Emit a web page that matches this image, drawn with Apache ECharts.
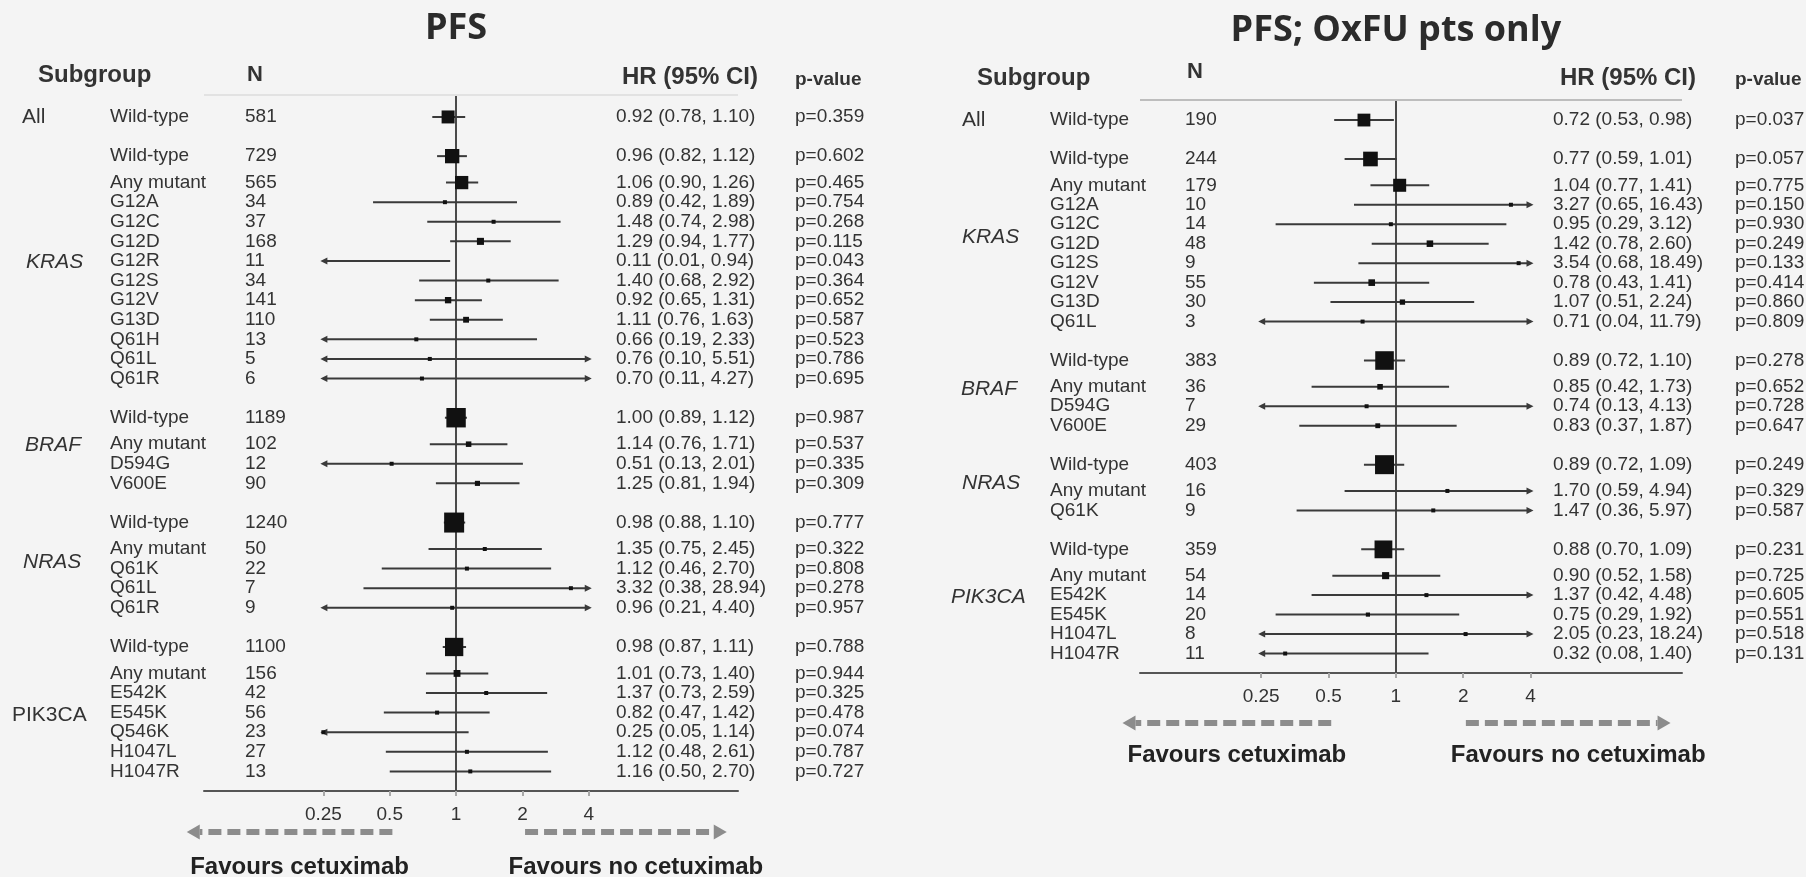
<!DOCTYPE html>
<html>
<head>
<meta charset="utf-8">
<script src="https://cdn.jsdelivr.net/npm/echarts@6/dist/echarts.min.js"></script>
<style>
  html, body { margin: 0; padding: 0; background: #f4f4f4; }
  #chart { width: 1806px; height: 877px; }
</style>
</head>
<body>
<div id="chart"></div>
<script>
// Hazard-ratio axis tick labels (log scale, base 2)
const hrTicks = [0.25, 0.5, 1, 2, 4];

// ---------- PFS, all patients ----------
const pfsGroups = ['All', 'KRAS', 'BRAF', 'NRAS', 'PIK3CA'];
const pfsGroupSizes = [1, 12, 4, 5, 7];
const pfsSubgroups = ['Wild-type',
  'Wild-type', 'Any mutant', 'G12A', 'G12C', 'G12D', 'G12R', 'G12S', 'G12V', 'G13D', 'Q61H', 'Q61L', 'Q61R',
  'Wild-type', 'Any mutant', 'D594G', 'V600E',
  'Wild-type', 'Any mutant', 'Q61K', 'Q61L', 'Q61R',
  'Wild-type', 'Any mutant', 'E542K', 'E545K', 'Q546K', 'H1047L', 'H1047R'];
const pfsN = [581,
  729, 565, 34, 37, 168, 11, 34, 141, 110, 13, 5, 6,
  1189, 102, 12, 90,
  1240, 50, 22, 7, 9,
  1100, 156, 42, 56, 23, 27, 13];
const pfsHR = [0.92,
  0.96, 1.06, 0.89, 1.48, 1.29, 0.11, 1.40, 0.92, 1.11, 0.66, 0.76, 0.70,
  1.00, 1.14, 0.51, 1.25,
  0.98, 1.35, 1.12, 3.32, 0.96,
  0.98, 1.01, 1.37, 0.82, 0.25, 1.12, 1.16];
const pfsLow = [0.78,
  0.82, 0.90, 0.42, 0.74, 0.94, 0.01, 0.68, 0.65, 0.76, 0.19, 0.10, 0.11,
  0.89, 0.76, 0.13, 0.81,
  0.88, 0.75, 0.46, 0.38, 0.21,
  0.87, 0.73, 0.73, 0.47, 0.05, 0.48, 0.50];
const pfsHigh = [1.10,
  1.12, 1.26, 1.89, 2.98, 1.77, 0.94, 2.92, 1.31, 1.63, 2.33, 5.51, 4.27,
  1.12, 1.71, 2.01, 1.94,
  1.10, 2.45, 2.70, 28.94, 4.40,
  1.11, 1.40, 2.59, 1.42, 1.14, 2.61, 2.70];
const pfsP = ['0.359',
  '0.602', '0.465', '0.754', '0.268', '0.115', '0.043', '0.364', '0.652', '0.587', '0.523', '0.786', '0.695',
  '0.987', '0.537', '0.335', '0.309',
  '0.777', '0.322', '0.808', '0.278', '0.957',
  '0.788', '0.944', '0.325', '0.478', '0.074', '0.787', '0.727'];

// ---------- PFS, OxFU patients only ----------
const oxfuGroups = ['All', 'KRAS', 'BRAF', 'NRAS', 'PIK3CA'];
const oxfuGroupSizes = [1, 9, 4, 3, 6];
const oxfuSubgroups = ['Wild-type',
  'Wild-type', 'Any mutant', 'G12A', 'G12C', 'G12D', 'G12S', 'G12V', 'G13D', 'Q61L',
  'Wild-type', 'Any mutant', 'D594G', 'V600E',
  'Wild-type', 'Any mutant', 'Q61K',
  'Wild-type', 'Any mutant', 'E542K', 'E545K', 'H1047L', 'H1047R'];
const oxfuN = [190,
  244, 179, 10, 14, 48, 9, 55, 30, 3,
  383, 36, 7, 29,
  403, 16, 9,
  359, 54, 14, 20, 8, 11];
const oxfuHR = [0.72,
  0.77, 1.04, 3.27, 0.95, 1.42, 3.54, 0.78, 1.07, 0.71,
  0.89, 0.85, 0.74, 0.83,
  0.89, 1.70, 1.47,
  0.88, 0.90, 1.37, 0.75, 2.05, 0.32];
const oxfuLow = [0.53,
  0.59, 0.77, 0.65, 0.29, 0.78, 0.68, 0.43, 0.51, 0.04,
  0.72, 0.42, 0.13, 0.37,
  0.72, 0.59, 0.36,
  0.70, 0.52, 0.42, 0.29, 0.23, 0.08];
const oxfuHigh = [0.98,
  1.01, 1.41, 16.43, 3.12, 2.60, 18.49, 1.41, 2.24, 11.79,
  1.10, 1.73, 4.13, 1.87,
  1.09, 4.94, 5.97,
  1.09, 1.58, 4.48, 1.92, 18.24, 1.40];
const oxfuP = ['0.037',
  '0.057', '0.775', '0.150', '0.930', '0.249', '0.133', '0.414', '0.860', '0.809',
  '0.278', '0.652', '0.728', '0.647',
  '0.249', '0.329', '0.587',
  '0.231', '0.725', '0.605', '0.551', '0.518', '0.131'];

// ---------- layout ----------
const FONT = '"Liberation Sans", Arial, Helvetica, sans-serif';
const TITLE_FONT = '"Open Sans", "Noto Sans", sans-serif';
const INK = '#333';
const LINE = '#3a3a3a';
const ARROW = '#8c8c8c';
const log2 = v => Math.log2(v);
const X_MIN = -3.8, X_MAX = 4.25;
const CLIP = [log2(hrTicks[0]), log2(hrTicks[hrTicks.length - 1])];

const panels = [
  {
    title: 'PFS', groups: pfsGroups, sizes: pfsGroupSizes, labels: pfsSubgroups,
    n: pfsN, hr: pfsHR, lo: pfsLow, hi: pfsHigh, p: pfsP,
    origin: 0, grid: { left: 204, top: 95, width: 534, height: 696 }, yMin: -1.12,
    box: 20, topRule: '#e2e2e2', titleY: 29,
    groupItalic: [false, true, true, true, false], groupShift: [0, -0.28, -0.28, -0.15, 0.3],
    groupX: [22, 26, 25, 23, 12],
    col: { sub: 110, n: 245, hr: 616, p: 795 },
    head: { sub: [38, 75], n: [247, 75], hr: [622, 77], p: [795, 80] },
    arrowDy: 41, favDy: 76
  },
  {
    title: 'PFS; OxFU pts only', groups: oxfuGroups, sizes: oxfuGroupSizes, labels: oxfuSubgroups,
    n: oxfuN, hr: oxfuHR, lo: oxfuLow, hi: oxfuHigh, p: oxfuP,
    origin: 940, grid: { left: 1140, top: 100, width: 542, height: 573 }, yMin: -1.03,
    box: 19, topRule: '#bdbdbd', titleY: 31,
    groupItalic: [false, true, true, true, true], groupShift: [0, -0.18, -0.18, -0.2, -0.22],
    groupX: [22, 22, 21, 22, 11],
    col: { sub: 110, n: 245, hr: 613, p: 795 },
    head: { sub: [37, 78], n: [247, 72], hr: [620, 78], p: [795, 80] },
    arrowDy: 50, favDy: 82
  }
];

// Row positions in row units: a blank line between gene blocks,
// and a little extra space below each wild-type row.
function rowPositions(sizes) {
  const pos = [], spans = [];
  let y = 0;
  sizes.forEach((count, g) => {
    if (g > 0) y += 2;
    const first = y;
    for (let k = 0; k < count; k++) {
      if (k === 1) y += 1.35; else if (k > 1) y += 1;
      pos.push(y);
    }
    spans.push([first, y]);
  });
  return { pos, spans };
}

function text(x, y, s, font, extra) {
  return {
    type: 'text', x, y,
    style: Object.assign({ text: s, font, fill: INK, textAlign: 'left', textVerticalAlign: 'middle' }, extra || {})
  };
}

function arrowHead(p, dir) {
  return {
    type: 'polygon',
    shape: { points: [[p[0] + dir * 3, p[1]], [p[0] - dir * 4, p[1] - 3.5], [p[0] - dir * 4, p[1] + 3.5]] },
    style: { fill: LINE }
  };
}

const option = {
  backgroundColor: '#f4f4f4',
  animation: false,
  textStyle: { fontFamily: FONT },
  grid: [], xAxis: [], yAxis: [], series: []
};

panels.forEach((P, pi) => {
  const { pos, spans } = rowPositions(P.sizes);
  P.yMax = pos[pos.length - 1] + 1.0;
  // inverse-variance weight from the CI width sets the box size
  const w = P.lo.map((l, i) => 3.92 / Math.log(P.hi[i] / l));
  const wMax = Math.max(...w);
  const rows = P.hr.map((h, i) => [log2(h), log2(P.lo[i]), log2(P.hi[i]), pos[i], w[i] / wMax]);

  option.grid.push(Object.assign({ containLabel: false }, P.grid));
  option.xAxis.push({
    type: 'value', gridIndex: pi, min: X_MIN, max: X_MAX,
    axisLine: { show: true, onZero: false, lineStyle: { color: '#555', width: 2 } },
    axisTick: { show: true, customValues: hrTicks.map(log2), length: 5, lineStyle: { color: '#a8a8a8', width: 2 } },
    axisLabel: {
      show: true, customValues: hrTicks.map(log2), margin: 14,
      fontSize: 19, color: INK, fontFamily: FONT,
      formatter: v => String(Math.round(Math.pow(2, v) * 100) / 100)
    },
    splitLine: { show: false }
  });
  option.yAxis.push({
    type: 'value', gridIndex: pi, inverse: true, min: P.yMin, max: P.yMax, show: false
  });

  // CI lines, boxes and the text columns of each row
  option.series.push({
    type: 'custom', xAxisIndex: pi, yAxisIndex: pi, clip: false, z: 3,
    data: rows,
    encode: { x: [0, 1, 2], y: 3 },
    renderItem: (params, api) => {
      const i = params.dataIndex;
      const hr = api.value(0), lo = api.value(1), hi = api.value(2), row = api.value(3), rel = api.value(4);
      const a = api.coord([Math.max(lo, CLIP[0]), row]);
      const b = api.coord([Math.min(hi, CLIP[1]), row]);
      const kids = [{
        type: 'line', shape: { x1: a[0], y1: a[1], x2: b[0], y2: b[1] },
        style: { stroke: LINE, lineWidth: 2 }
      }];
      if (lo < CLIP[0]) kids.push(arrowHead(a, -1));
      if (hi > CLIP[1]) kids.push(arrowHead(b, 1));
      if (hr >= CLIP[0] - 1e-9 && hr <= CLIP[1]) {
        const c = api.coord([hr, row]);
        const s = Math.max(P.box * rel, 4);
        kids.push({ type: 'rect', shape: { x: c[0] - s / 2, y: c[1] - s / 2, width: s, height: s }, style: { fill: '#111' } });
      }
      const y = a[1], ox = P.origin, f = '19px ' + FONT;
      const ci = P.hr[i].toFixed(2) + ' (' + P.lo[i].toFixed(2) + ', ' + P.hi[i].toFixed(2) + ')';
      kids.push(text(ox + P.col.sub, y, P.labels[i], f));
      kids.push(text(ox + P.col.n, y, String(P.n[i]), f));
      kids.push(text(ox + P.col.hr, y, ci, f));
      kids.push(text(ox + P.col.p, y, 'p=' + P.p[i], f));
      return { type: 'group', children: kids };
    },
    markLine: {
      silent: true, symbol: 'none', label: { show: false }, z: 2,
      data: [
        { xAxis: 0, lineStyle: { color: '#4a4a4a', width: 2, type: 'solid' } },
        { yAxis: P.yMin, lineStyle: { color: P.topRule, width: 2, type: 'solid' } }
      ]
    }
  });

  // gene block labels
  option.series.push({
    type: 'custom', xAxisIndex: pi, yAxisIndex: pi, clip: false, z: 4,
    data: spans.map((s, g) => [0, (s[0] + s[1]) / 2 + P.groupShift[g]]),
    renderItem: (params, api) => {
      const g = params.dataIndex;
      const c = api.coord([0, api.value(1)]);
      const f = (P.groupItalic[g] ? 'italic ' : '') + '21px ' + FONT;
      return text(P.origin + P.groupX[g], c[1], P.groups[g], f);
    }
  });
});

const chart = echarts.init(document.getElementById('chart'));
chart.setOption(option);

// titles, column headings and the direction arrows
const graphics = [];
panels.forEach((P, pi) => {
  const px = v => chart.convertToPixel({ gridIndex: pi }, [v, 0])[0];
  const ox = P.origin;
  const bottom = P.grid.top + P.grid.height;
  graphics.push(text(px(0), P.titleY, P.title, 'bold 36px ' + TITLE_FONT, { textAlign: 'center', fill: '#2b2b2b' }));
  graphics.push(text(ox + P.head.sub[0], P.head.sub[1], 'Subgroup', 'bold 24px ' + FONT));
  graphics.push(text(ox + P.head.n[0], P.head.n[1], 'N', 'bold 22px ' + FONT));
  graphics.push(text(ox + P.head.hr[0], P.head.hr[1], 'HR (95% CI)', 'bold 24px ' + FONT));
  graphics.push(text(ox + P.head.p[0], P.head.p[1], 'p-value', 'bold 19px ' + FONT));

  const ay = bottom + P.arrowDy;
  const arrows = [[-0.96, -4.06, -1, 'Favours cetuximab'], [1.04, 4.08, 1, 'Favours no cetuximab']];
  arrows.forEach(([from, to, dir, label]) => {
    const x0 = px(from), x1 = px(to);
    const base = x1 - dir * 13;
    graphics.push({ type: 'line', shape: { x1: x0, y1: ay, x2: base, y2: ay }, style: { stroke: ARROW, lineWidth: 6, lineDash: [13, 6] } });
    graphics.push({ type: 'polygon', shape: { points: [[x1, ay], [base, ay - 7.5], [base, ay + 7.5]] }, style: { fill: ARROW } });
    graphics.push(text((x0 + x1) / 2 + 10, bottom + P.favDy, label, 'bold 24px ' + FONT, { textAlign: 'center', fill: '#222' }));
  });
});
chart.setOption({ graphic: { elements: graphics } });
</script>
</body>
</html>
